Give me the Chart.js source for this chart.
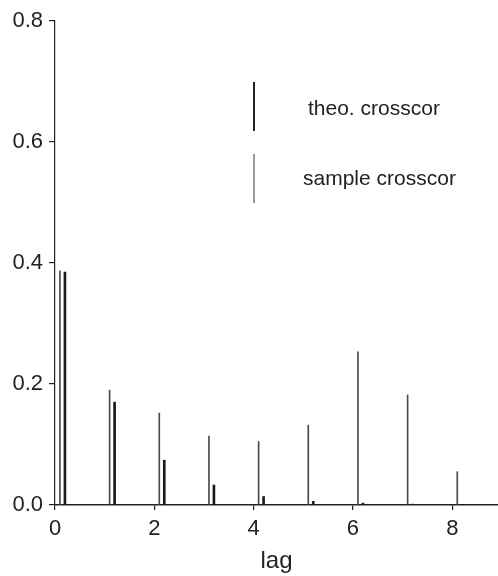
<!DOCTYPE html>
<html>
<head>
<meta charset="utf-8">
<script src="https://cdn.jsdelivr.net/npm/chart.js@4.4.0/dist/chart.umd.min.js"></script>
<style>
	body { margin: 0; background: #fff; }
	#wrap { width: 498px; height: 576px; }
</style>
</head>
<body>
<div id="wrap"><canvas id="ccfChart"></canvas></div>
<script>
var theoLags = [0.2, 1.2, 2.2, 3.2, 4.2, 5.2, 6.2, 7.2, 8.2];
var theoValues = [0.385, 0.170, 0.074, 0.033, 0.014, 0.006, 0.003, 0.0015, 0.0007];
var sampleLags = [0.1, 1.1, 2.1, 3.1, 4.1, 5.1, 6.1, 7.1, 8.1];
var sampleValues = [0.387, 0.190, 0.152, 0.114, 0.105, 0.132, 0.253, 0.182, 0.055];
var xTicks = [0, 2, 4, 6, 8];
var yTicks = [0.0, 0.2, 0.4, 0.6, 0.8];

function toPoints(xs, ys) {
	return xs.map(function (x, i) { return { x: x, y: ys[i] }; });
}

// legend drawn by hand: vertical line sample + label
var spikeLegend = {
	id: "spikeLegend",
	afterDraw: function (chart) {
		var ctx = chart.ctx;
		ctx.save();
		ctx.strokeStyle = "#222";
		ctx.lineWidth = 2;
		ctx.beginPath();
		ctx.moveTo(254, 82);
		ctx.lineTo(254, 131);
		ctx.stroke();
		ctx.strokeStyle = "#555";
		ctx.lineWidth = 1.2;
		ctx.beginPath();
		ctx.moveTo(254, 154);
		ctx.lineTo(254, 203);
		ctx.stroke();
		ctx.fillStyle = "#222";
		ctx.font = "21px 'Liberation Sans', Arial, sans-serif";
		ctx.textBaseline = "alphabetic";
		ctx.fillText("theo. crosscor", 308, 115);
		ctx.fillText("sample crosscor", 303, 185);
		ctx.restore();
	}
};

var ccfChart = new Chart(document.getElementById("ccfChart"), {
	type: "bar",
	data: {
		datasets: [
			{
				label: "theo. crosscor",
				data: toPoints(theoLags, theoValues),
				backgroundColor: "#1a1a1a",
				barThickness: 2,
				grouped: false
			},
			{
				label: "sample crosscor",
				data: toPoints(sampleLags, sampleValues),
				backgroundColor: "#4a4a4a",
				barThickness: 1,
				grouped: false
			}
		]
	},
	options: {
		responsive: true,
		maintainAspectRatio: false,
		animation: false,
		layout: { padding: { top: 21, right: 0, left: 0, bottom: 0 } },
		plugins: {
			legend: { display: false },
			tooltip: { enabled: false }
		},
		scales: {
			x: {
				type: "linear",
				min: 0,
				max: 8.92,
				offset: false,
				afterFit: function (scale) { scale.height = 71; },
				afterBuildTicks: function (scale) {
					scale.ticks = xTicks.map(function (v) { return { value: v }; });
				},
				ticks: {
					color: "#222",
					font: { family: "'Liberation Sans', Arial, sans-serif", size: 22 },
					padding: 6,
					maxRotation: 0
				},
				grid: { offset: false, drawOnChartArea: false, drawTicks: true, tickLength: 5, color: "#222", lineWidth: 1.2 },
				border: { display: true, color: "#222", width: 1.5 },
				title: {
					display: true,
					text: "lag",
					color: "#222",
					font: { family: "'Liberation Sans', Arial, sans-serif", size: 24 },
					padding: { top: 0, bottom: 0 }
				}
			},
			y: {
				min: 0,
				max: 0.8,
				afterFit: function (scale) { scale.width = 55; },
				afterBuildTicks: function (scale) {
					scale.ticks = yTicks.map(function (v) { return { value: v }; });
				},
				ticks: {
					color: "#222",
					font: { family: "'Liberation Sans', Arial, sans-serif", size: 22 },
					padding: 6,
					callback: function (v) { return v.toFixed(1); }
				},
				grid: { offset: false, drawOnChartArea: false, drawTicks: true, tickLength: 6, color: "#222", lineWidth: 1.2 },
				border: { display: true, color: "#222", width: 1.2 }
			}
		}
	},
	plugins: [spikeLegend]
});
</script>
</body>
</html>
